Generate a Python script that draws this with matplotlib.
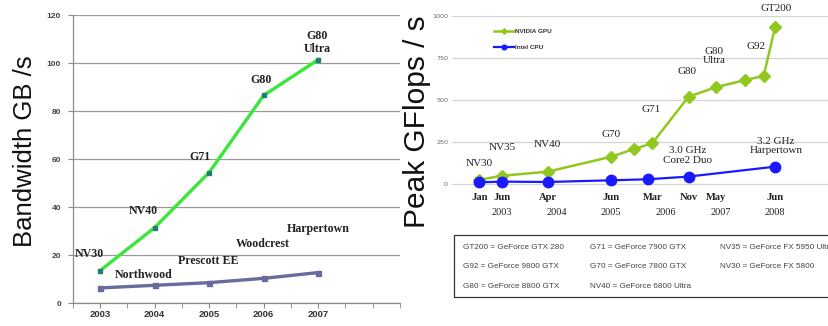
import matplotlib
matplotlib.use("Agg")
import matplotlib.pyplot as plt
import numpy as np
from matplotlib.patches import Rectangle

# ---------------- data: memory bandwidth (GB/s) ----------------
bw_years = ["2003", "2004", "2005", "2006", "2007"]
bw_gpu = [13.6, 31.5, 54.5, 86.6, 101.5]
bw_cpu = [6.4, 7.5, 8.6, 10.4, 12.8]
bw_gpu_names = ["NV30", "NV40", "G71", "G80", "G80\nUltra"]
bw_cpu_names = ["Northwood", "Prescott EE", "Woodcrest", "Harpertown"]

# ---------------- data: peak GFLOP/s (x in months since Jan 2003) ----------------
gpu_months = [0, 5, 15, 29, 34, 38, 46, 52, 58.5, 62.5, 65]
gpu_gflops = [25, 49, 73, 162, 208, 242, 519, 575, 618, 642, 931]
cpu_months = [0, 5, 15, 29, 37, 46, 65]
cpu_gflops = [10, 14, 12, 22, 28, 44, 103]
month_ticks = [0, 5, 15, 29, 38, 46, 52, 65]
month_labels = ["Jan", "Jun", "Apr", "Jun", "Mar", "Nov", "May", "Jun"]
year_ticks = [5, 17, 29, 41, 53, 65]
year_labels = ["2003", "2004", "2005", "2006", "2007", "2008"]
gpu_names = {0: "NV30", 1: "NV35", 2: "NV40", 3: "G70", 5: "G71", 6: "G80",
             7: "G80\nUltra", 9: "G92", 10: "GT200"}
cpu_names = {5: "3.0 GHz\nCore2 Duo", 6: "3.2 GHz\nHarpertown"}
legend_rows = [
    ["GT200 = GeForce GTX 280", "G71 = GeForce 7900 GTX", "NV35 = GeForce FX 5950 Ultra"],
    ["G92 = GeForce 9800 GTX", "G70 = GeForce 7800 GTX", "NV30 = GeForce FX 5800"],
    ["G80 = GeForce 8800 GTX", "NV40 = GeForce 6800 Ultra", ""],
]

W, H = 829, 326
fig = plt.figure(figsize=(W / 100, H / 100), dpi=100)
fig.patch.set_facecolor("white")


def fx(px):
    return px / W


def fy(py):
    return 1 - py / H


serif = "Liberation Serif"
sans = "Liberation Sans"

# ================= left panel: bandwidth =================
axL = fig.add_axes([fx(72.7), fy(303.3), fx(400) - fx(72.7), fy(15.3) - fy(303.3)])
xb = np.arange(len(bw_years))
axL.set_xlim(-0.5, 5.5)
axL.set_ylim(0, 120)
axL.set_yticks(np.arange(0, 121, 20))
axL.yaxis.grid(True, color="#9a9a9a", lw=0.9)
axL.set_axisbelow(True)
for s in ["top", "right"]:
    axL.spines[s].set_visible(False)
for s in ["left", "bottom"]:
    axL.spines[s].set_color("#8a8a8a")
    axL.spines[s].set_linewidth(0.9)
axL.set_xticks(xb)
axL.set_xticklabels(bw_years, fontfamily=sans, fontweight="bold", fontsize=6.8, color="#333333")
axL.set_xticks(np.arange(-0.5, 5.6, 0.5), minor=True)
axL.tick_params(axis="x", which="both", length=3.5, color="#8a8a8a", pad=1.5)
axL.tick_params(axis="y", length=3.5, color="#8a8a8a", labelsize=6, labelcolor="#444444", pad=5)
for t in axL.get_yticklabels():
    t.set_fontfamily(sans)
    t.set_fontweight("bold")

axL.plot(xb, bw_gpu, color="#3ae63a", lw=2.4, marker="s", ms=3.2,
         mfc="#1f7f72", mec="#1f7f72", zorder=3)
axL.plot(xb, bw_cpu, color="#6a6a9c", lw=2.4, marker="s", ms=3.6,
         mfc="#6a6a9c", mec="#6a6a9c", zorder=3)

gpu_off = [(-11, 16.4), (-11, 17), (-9, 15.6), (-2.3, 15.3), (-0.7, 17.4)]
for i, (name, (dx, dy)) in enumerate(zip(bw_gpu_names, gpu_off)):
    axL.annotate(name, (xb[i], bw_gpu[i]), xytext=(dx, dy), textcoords="offset pixels",
                 ha="center", va="center", fontfamily=serif, fontweight="bold",
                 fontsize=8.6, color="#222222", linespacing=1.05)
cpu_off = [(-11, 10), (-1.3, 21.7), (-0.7, 34.3), (0.3, 43.4)]
for i, (name, (dx, dy)) in enumerate(zip(bw_cpu_names, cpu_off)):
    axL.annotate(name, (xb[i + 1], bw_cpu[i + 1]), xytext=(dx, dy), textcoords="offset pixels",
                 ha="center", va="center", fontfamily=serif, fontweight="bold",
                 fontsize=8.6, color="#222222")

fig.text(fx(25), fy(151), "Bandwidth GB /s", rotation=90, ha="center", va="center",
         fontfamily=sans, fontsize=18.5, color="#111111")

# ================= right panel: peak GFLOP/s =================
m0, mpx = 479.3, 4.55  # pixel of month 0, pixels per month
xlo = (455 - m0) / mpx
xhi = (829 - m0) / mpx
axR = fig.add_axes([fx(455), fy(188.2), fx(829) - fx(455), fy(15.7) - fy(188.2)])
axR.set_xlim(xlo, xhi)
axR.set_ylim(-25, 1000)
axR.set_yticks([0, 250, 500, 750, 1000])
axR.yaxis.grid(True, color="#d4d4d4", lw=0.9)
axR.set_axisbelow(True)
for s in axR.spines.values():
    s.set_visible(False)
axR.tick_params(axis="y", length=2.5, color="#cccccc", labelsize=4.6,
                labelcolor="#666666", pad=2.5)
axR.xaxis.remove_overlapping_locs = False
axR.set_xticks(month_ticks)
axR.set_xticklabels(month_labels, fontfamily=serif, fontweight="bold", fontsize=7.6,
                    color="#222222")
axR.set_xticks(year_ticks, minor=True)
axR.set_xticklabels(year_labels, minor=True, fontfamily=serif, fontsize=7.4, color="#222222")
axR.tick_params(axis="x", which="major", length=0, pad=3.3)
axR.tick_params(axis="x", which="minor", length=0, pad=14)

axR.plot(gpu_months, gpu_gflops, color="#92c81e", lw=1.8, marker="D", ms=6.2,
         mfc="#92c81e", mec="#92c81e", zorder=3, label="NVIDIA GPU")
axR.plot(cpu_months, cpu_gflops, color="#1a1aff", lw=1.6, marker="o", ms=7.5,
         mfc="#1a1aff", mec="#1a1aff", zorder=4, label="Intel CPU")

gpu_loff = {0: (0, 16.7), 1: (0, 28), 2: (0, 27.7), 3: (0, 22.4), 5: (-1.3, 33.3),
            6: (-2, 25), 7: (-2, 31.5), 9: (-8, 29.3), 10: (1, 19)}
for i, name in gpu_names.items():
    dx, dy = gpu_loff[i]
    axR.annotate(name, (gpu_months[i], gpu_gflops[i]), xytext=(dx, dy),
                 textcoords="offset pixels", ha="center", va="center",
                 fontfamily=serif, fontsize=8, color="#222222", linespacing=1.05)
cpu_loff = {5: (-1.3, 21.2), 6: (0.7, 20.9)}
for i, name in cpu_names.items():
    dx, dy = cpu_loff[i]
    axR.annotate(name, (cpu_months[i], cpu_gflops[i]), xytext=(dx, dy),
                 textcoords="offset pixels", ha="center", va="center",
                 fontfamily=serif, fontsize=8, color="#222222", linespacing=1.05)

leg = axR.legend(loc="upper left", bbox_to_anchor=(fx(488), fy(23)),
                 bbox_transform=fig.transFigure, frameon=False,
                 prop={"family": sans, "weight": "bold", "size": 4.6},
                 handlelength=3.2, handletextpad=0.2, labelspacing=1.6, markerscale=0.45)
for t in leg.get_texts():
    t.set_color("#333333")

fig.text(fx(417.5), fy(122), "Peak GFlops / s", rotation=90, ha="center", va="center",
         fontfamily=sans, fontsize=21.5, color="#111111")

# ================= chip name key =================
fig.add_artist(Rectangle((fx(454), fy(296.7)), fx(900) - fx(454), fy(235) - fy(296.7),
                         transform=fig.transFigure, fill=False, ec="#333333", lw=0.9))
col_x = [463.3, 590, 720]
row_y = [247.3, 266.7, 286]
for r, row in enumerate(legend_rows):
    for c, txt in enumerate(row):
        if txt:
            fig.text(fx(col_x[c]), fy(row_y[r]), txt, ha="left", va="center",
                     fontfamily=sans, fontsize=5.9, color="#444444")

fig.savefig("out.png", dpi=100, facecolor="white")
